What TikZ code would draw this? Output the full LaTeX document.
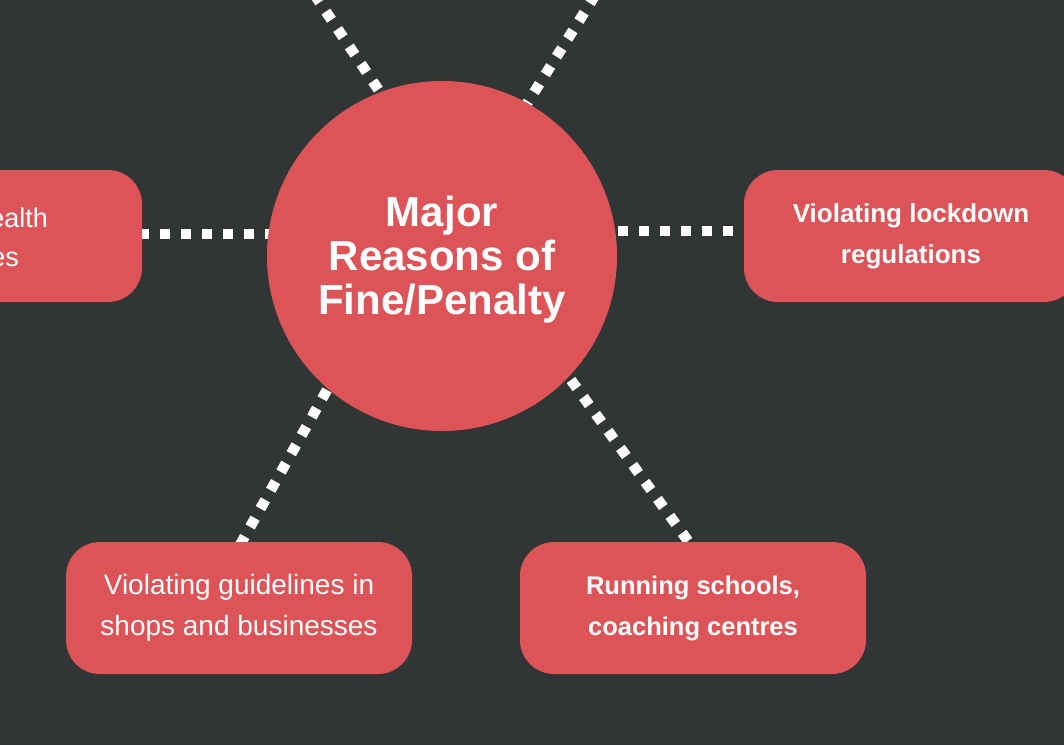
\documentclass[tikz,border=0pt]{standalone}
\usepackage{fontspec}
\setmainfont{Liberation Sans}
\definecolor{bgdark}{HTML}{313536}
\definecolor{boxred}{HTML}{DC5457}
\tikzset{
  hub/.style={circle, fill=boxred, minimum size=350pt, inner sep=0pt},
  hubtext/.style={text=white, align=center, inner sep=0pt,
    font=\bfseries\fontsize{42}{44}\selectfont},
  reason/.style={rounded corners=34pt, fill=boxred, minimum width=346pt,
    minimum height=132pt, text=white, align=center,
    font=\bfseries\fontsize{25.5}{41}\selectfont},
  reasonlight/.style={reason, font=\fontsize{28}{41}\selectfont},
  link/.style={white, line width=10.5pt, dash pattern=on 10pt off 11pt}
}
\begin{document}
\begin{tikzpicture}[x=1pt, y=-1pt]
    % Canvas 1064 x 745
    \fill[bgdark] (0, 0) rectangle (1064, 745);
    \useasboundingbox (0, 0) rectangle (1064, 745);
    \clip (0, 0) rectangle (1064, 745);

    % End points of the dotted links
    \coordinate (ulfar) at (298, -30);
    \coordinate (ulnear) at (390, 107);
    \coordinate (urfar) at (611, -30);
    \coordinate (urnear) at (523, 110);
    \coordinate (llnear) at (327, 390);
    \coordinate (llfar) at (240, 545);
    \coordinate (lrnear) at (571, 380);
    \coordinate (lrfar) at (691, 545);
    \coordinate (lnear) at (275, 234);
    \coordinate (lfar) at (125, 234);
    \coordinate (rnear) at (618, 231);
    \coordinate (rfar) at (760, 231);

    % Dotted links, drawn under the shapes
    \draw[link] (ulnear) -- (ulfar);
    \draw[link] (urnear) -- (urfar);
    \draw[link] (llnear) -- (llfar);
    \draw[link] (lrnear) -- (lrfar);
    \draw[link] (lnear) -- (lfar);
    \draw[link] (rnear) -- (rfar);

    % Centre circle
    \node[hub] (hub) at (442, 256) {};
    \node[hubtext, yshift=-4pt] (title) at (hub.center) {Major\\Reasons of\\Fine/Penalty};

    % Reason boxes
    \node[reason, minimum width=334pt, font=\bfseries\fontsize{26}{41}\selectfont] (lockdown) at (911, 236) {Violating lockdown\\regulations};
    \node[reasonlight] (shops) at (239, 608) {Violating guidelines in\\shops and businesses};
    \node[reason] (schools) at (693, 608) {Running schools,\\coaching centres};
    \node[reasonlight, minimum width=334pt] (health) at (-25, 236) {};

    % Visible part of the cut-off box text
    \node[anchor=base east, inner sep=0pt, text=white,
      font=\fontsize{27}{41}\selectfont] (healthtop) at (48, 227) {ealth};
    \node[anchor=base east, inner sep=0pt, text=white,
      font=\fontsize{27}{41}\selectfont] (healthbot) at (19, 266) {es};
\end{tikzpicture}
\end{document}
